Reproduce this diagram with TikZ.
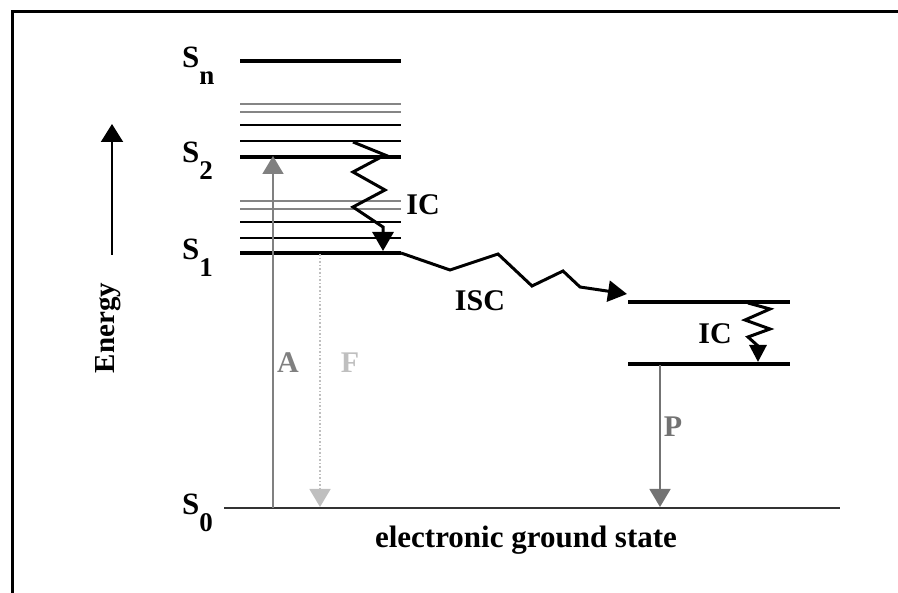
\documentclass[tikz,border=0pt]{standalone}
\usepackage{fontspec}
\setmainfont{Liberation Serif}
\usetikzlibrary{arrows.meta}
\tikzset{
  level/.style={line width=3.5pt},
  sublevel/.style={line width=2pt},
  vibband/.style={line width=2.4pt, black!48},
  wiggle/.style={line width=3pt, line join=miter, -{Triangle[length=19pt,width=21pt]}},
  trans/.style={line width=1.6pt, -{Triangle[length=18pt,width=21pt]}},
  lbl/.style={font=\fontsize{30}{30}\selectfont\bfseries, inner sep=0pt}
}
\newcommand{\lvsub}[1]{\raisebox{-17pt}{\fontsize{27}{27}\selectfont #1}}

\begin{document}
\begin{tikzpicture}[x=1pt, y=-1pt]
  \useasboundingbox (0,0) rectangle (898,593);
  \draw[line width=3pt] (12,593) -- (12,12) -- (898,12);

  % singlet manifold
  \draw[level] (240,61) coordinate (snL) -- (401,61) coordinate (snR);
  \foreach \y in {104,112,201,209} \draw[vibband] (240,\y) -- (401,\y);
  \foreach \y in {125,141,222,238} \draw[sublevel] (240,\y) -- (401,\y);
  \draw[level] (240,157) coordinate (s2L) -- (401,157) coordinate (s2R);
  \draw[level] (240,253) coordinate (s1L) -- (401,253) coordinate (s1R);
  % triplet levels
  \draw[level] (628,302) coordinate (t2L) -- (790,302) coordinate (t2R);
  \draw[level] (628,364) coordinate (t1L) -- (790,364) coordinate (t1R);
  \draw[line width=2.5pt, black!80] (224,508) coordinate (s0L) -- (840,508) coordinate (s0R);

  \coordinate (aLow) at (273,508);  \coordinate (aHigh) at (273,156);
  \coordinate (fHigh) at (320,254); \coordinate (fLow) at (320,507);
  \coordinate (pHigh) at (660,365); \coordinate (pLow) at (660,507);
  \coordinate (ic1Top) at (353,142); \coordinate (ic1End) at (383,251);
  \coordinate (iscEnd) at (627,294);
  \coordinate (ic2Top) at (748,303); \coordinate (ic2End) at (758,362);
  \coordinate (eLow) at (112,255);  \coordinate (eHigh) at (112,124);

  \node[lbl, anchor=base west, font=\fontsize{31}{31}\selectfont\bfseries] (snLab) at (182,68) {S\lvsub{n}};
  \node[lbl, anchor=base west, font=\fontsize{31}{31}\selectfont\bfseries] (s2Lab) at (182,163) {S\lvsub{2}};
  \node[lbl, anchor=base west, font=\fontsize{31}{31}\selectfont\bfseries] (s1Lab) at (182,260) {S\lvsub{1}};
  \node[lbl, anchor=base west, font=\fontsize{31}{31}\selectfont\bfseries] (s0Lab) at (182,515) {S\lvsub{0}};
  \node[lbl] (ic1Lab) at (423,205) {IC};
  \node[lbl] (iscLab) at (480,301) {ISC};
  \node[lbl] (ic2Lab) at (715,334) {IC};
  \node[lbl, text=black!50] (aLab) at (288,363) {A};
  \node[lbl, text=black!25] (fLab) at (350,363) {F};
  \node[lbl, text=black!55] (pLab) at (673,427) {P};
  \node[lbl, rotate=90, font=\fontsize{29}{29}\selectfont\bfseries] (energyLab) at (108,328) {Energy};
  \node[lbl, font=\fontsize{31}{31}\selectfont\bfseries] (groundLab) at (526,540) {electronic ground state};

  \draw[trans, black!50] (aLow) -- (aHigh);
  \draw[trans, black!25, dotted] (fHigh) -- (fLow);
  \draw[trans, black!55] (pHigh) -- (pLow);
  \draw[wiggle] (ic1Top) -- (385,155) -- (353,172) -- (385,190) -- (353,207) -- (383,227) -- (ic1End);
  \draw[wiggle] (s1R) -- (450,270) -- (498,254) -- (532,286) -- (563,271) -- (580,287) -- (iscEnd);
  \draw[wiggle, -{Triangle[length=17pt,width=17pt]}] (ic2Top) -- (770,309) -- (745,320) -- (770,329) -- (748,337) -- (758,346) -- (ic2End);
  \draw[line width=2pt, -{Triangle[length=18pt,width=22pt]}] (eLow) -- (eHigh);
\end{tikzpicture}
\end{document}
